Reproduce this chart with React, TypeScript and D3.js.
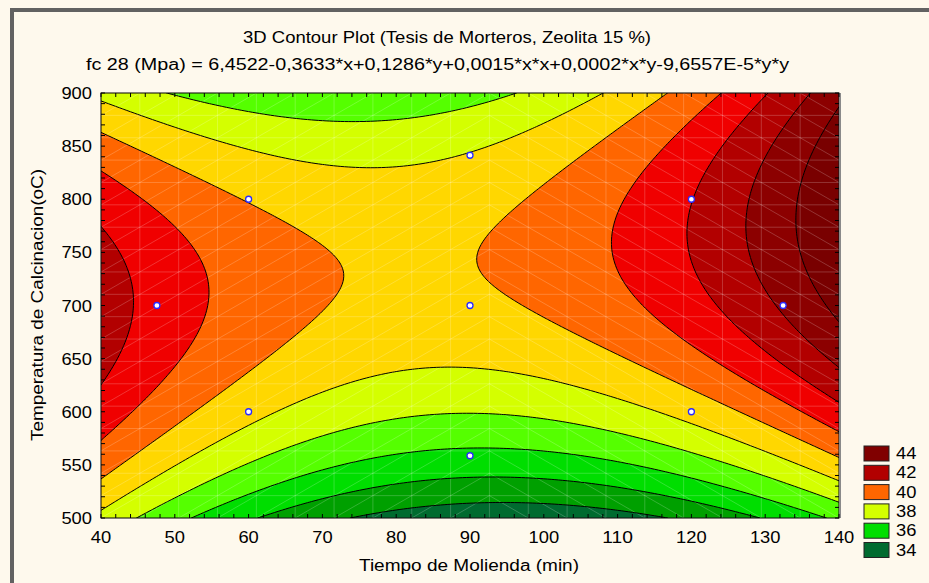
import React, { useMemo } from "react";
import * as d3 from "d3";

const W = 929;
const H = 583;
const M = { left: 101, right: 839, top: 93, bottom: 518 };

const xTicks = [40, 50, 60, 70, 80, 90, 100, 110, 120, 130, 140];
const yTicks = [500, 550, 600, 650, 700, 750, 800, 850, 900];

// contour levels (MPa) and band colours (band below first level ... band above last)
const contourLevels = [35, 36, 37, 38, 39, 40, 41, 42, 43, 44];
const bandColors = [
  "#006b2f", "#00a000", "#00de00", "#55ff00", "#d4ff00", "#ffd700",
  "#ff6600", "#f00000", "#b20000", "#8c0000", "#790000",
];
const legendLabels = [44, 42, 40, 38, 36, 34];
const legendColors = ["#800000", "#b20000", "#ff6600", "#d4ff00", "#00de00", "#006b2f"];

// experimental design points (min, °C)
const designX = [60, 60, 120, 120, 47.57, 132.43, 90, 90, 90];
const designY = [600, 800, 600, 800, 700, 700, 558.58, 841.42, 700];

// positions of each contour line [Tiempo, Temperatura]
const line35: [number, number][] = [[72.8, 500], [81.9, 510.6], [92.7, 516.3], [110.7, 504.5], [116.5, 500]];
const line36: [number, number][] = [[60.6, 500], [65.6, 519.8], [76.4, 532.9], [81.9, 537.6], [92.7, 538.6], [103.1, 532.9], [113.4, 516.9], [124.5, 500]];
const line37: [number, number][] = [[52.1, 500], [65.6, 538.6], [76.4, 554.6], [87.3, 563.1], [92.7, 565.9], [113.4, 542.4], [128.9, 516.9], [140, 502.8]];
const line38: [number, number][] = [[44.9, 500], [65.6, 561.2], [76.4, 589.4], [81.9, 596.9], [87.3, 598.8], [92.7, 598.8], [103.1, 592.2], [113.4, 573.4], [128.9, 543.3], [140, 515.1], [48.7, 900], [76.4, 870.8], [92.7, 891.5], [97.2, 900]];
const line39: [number, number][] = [[40, 891.8], [76.4, 826.9], [90, 841.4], [98.1, 862.4], [108.3, 900], [40, 507.5], [52.1, 551.8], [59.2, 582.8], [65.6, 599.8], [76.4, 632.7], [81.9, 641.2], [87.3, 643.1], [92.7, 641.2], [103.1, 629.9], [120, 600], [140, 533.9]];
const line40: [number, number][] = [[40, 863.6], [59.6, 800.9], [71.0, 749.4], [72.4, 730.6], [71.0, 709.9], [65.6, 667.5], [59.2, 629.9], [40, 537.6], [116.8, 900], [108.6, 855.8], [97.2, 796.5], [93.7, 773.9], [92.7, 758.8], [91.5, 731], [94.7, 711.8], [99.9, 688.2], [105.3, 667.5], [111.7, 646.8], [118.0, 627.1], [128.9, 589.4], [140, 556.5]];
const line41: [number, number][] = [[40, 827.5], [54.3, 730.6], [54.8, 708], [40, 570.6], [123.9, 900], [112.1, 818.1], [109.2, 752.2], [110.1, 724], [114.4, 689.2], [118.9, 667.5], [124.3, 645.9], [128.9, 623.3], [140, 580]];
const line42: [number, number][] = [[40, 775.8], [44.3, 730.6], [44.7, 708], [40, 622.4], [130.2, 900], [120, 800], [119.4, 773.9], [120.2, 724], [124.3, 694.8], [128.9, 667.5], [134.7, 642.1], [140, 620.5]];
const line43: [number, number][] = [[135.7, 900], [127.9, 818.1], [127, 780.5], [127.7, 724], [132, 692.9], [134.7, 670.4], [140, 646.8]];
const line44: [number, number][] = [[139.9, 881.2], [134.3, 818.1], [133.8, 780.5], [135, 724], [140, 692.9]];

const contourReadings: [number, [number, number][]][] = [
  [35, line35], [36, line36], [37, line37], [38, line38], [39, line39],
  [40, line40], [41, line41], [42, line42], [43, line43], [44, line44],
];

const titleText = "3D Contour Plot (Tesis de Morteros, Zeolita 15 %)";
const formulaText = "fc 28 (Mpa) = 6,4522-0,3633*x+0,1286*y+0,0015*x*x+0,0002*x*y-9,6557E-5*y*y";
const xTitle = "Tiempo de Molienda (min)";
const yTitle = "Temperatura de Calcinacion(oC)";

const basis = (x: number, y: number) => {
  const u = (x - 90) / 50;
  const v = (y - 700) / 200;
  return [1, u, v, u * u, u * v, v * v];
};

// least-squares quadratic response surface through the read contour positions
function fitSurface(): number[] {
  const N = 6;
  const A = Array.from({ length: N }, () => new Array(N + 1).fill(0));
  contourReadings.forEach(([level, pts]) =>
    pts.forEach(([x, y]) => {
      const b = basis(x, y);
      for (let i = 0; i < N; i++) {
        for (let j = 0; j < N; j++) A[i][j] += b[i] * b[j];
        A[i][N] += b[i] * level;
      }
    })
  );
  for (let c = 0; c < N; c++) {
    let p = c;
    for (let r = c + 1; r < N; r++) if (Math.abs(A[r][c]) > Math.abs(A[p][c])) p = r;
    [A[c], A[p]] = [A[p], A[c]];
    for (let r = 0; r < N; r++) {
      if (r === c) continue;
      const f = A[r][c] / A[c][c];
      for (let k = c; k <= N; k++) A[r][k] -= f * A[c][k];
    }
  }
  return A.map((row, i) => row[N] / row[i]);
}

const digitW = 10.2;

export default function App() {
  const x = d3.scaleLinear().domain([40, 140]).range([M.left, M.right]);
  const y = d3.scaleLinear().domain([500, 900]).range([M.bottom, M.top]);

  const { bands } = useMemo(() => {
    const coef = fitSurface();
    const nx = 201;
    const ny = 161;
    const dx = 100 / (nx - 1);
    const dy = 400 / (ny - 1);
    const values = new Array(nx * ny);
    for (let j = 0; j < ny; j++) {
      for (let i = 0; i < nx; i++) {
        const b = basis(40 + i * dx, 900 - j * dy);
        values[j * nx + i] = b.reduce((s, v, k) => s + v * coef[k], 0);
      }
    }
    const gen = d3.contours().size([nx, ny]).thresholds(contourLevels);
    const proj = d3.geoTransform({
      point(cx: number, cy: number) {
        (this as any).stream.point(x(40 + (cx - 0.5) * dx), y(900 - (cy - 0.5) * dy));
      },
    });
    const path = d3.geoPath(proj);
    const bands = gen(values).map((g: any) => ({ value: g.value, d: path(g) || "" }));
    return { bands };
  }, []);

  const pw = M.right - M.left;
  const ph = M.bottom - M.top;
  const cells = 19;
  const mesh: string[] = [];
  for (let i = 0; i <= cells; i++) {
    const xx = M.left + (i * pw) / cells;
    const yy = M.top + (i * ph) / cells;
    mesh.push(`M${xx},${M.top}V${M.bottom}`);
    mesh.push(`M${M.left},${yy}H${M.right}`);
  }
  for (let i = 0; i < cells; i++) {
    const xa = M.left + (i * pw) / cells;
    const xb = M.left + ((i + 1) * pw) / cells;
    for (let j = 0; j < cells; j++) {
      const ya = M.top + (j * ph) / cells;
      const yb = M.top + ((j + 1) * ph) / cells;
      if ((xa + xb) / 2 < 490) mesh.push(`M${xa},${yb}L${xb},${ya}`);
      else mesh.push(`M${xa},${ya}L${xb},${yb}`);
    }
  }

  const minorY = d3.range(500, 901, 10);
  const minorX = d3.range(40, 141, 2);
  const font = "Arial, 'Liberation Sans', sans-serif";

  return (
    <svg width={W} height={H} style={{ position: "absolute", left: 0, top: 0, background: "#fef9ed" }} fontFamily={font}>
      <rect x={0} y={0} width={W} height={H} fill="#fef9ed" />
      <rect x={10} y={8} width={4} height={H - 8} fill="#626262" />
      <rect x={10} y={8} width={W - 10} height={4} fill="#626262" />

      <text x={447} y={43} fontSize={17} textAnchor="middle" textLength={408} lengthAdjust="spacingAndGlyphs" fill="#000">{titleText}</text>
      <text x={437.5} y={70} fontSize={16} textAnchor="middle" textLength={703} lengthAdjust="spacingAndGlyphs" fill="#000">{formulaText}</text>

      <defs>
        <clipPath id="plotClip">
          <rect x={M.left} y={M.top} width={pw} height={ph} />
        </clipPath>
      </defs>
      <g clipPath="url(#plotClip)">
        <rect x={M.left} y={M.top} width={pw} height={ph} fill={bandColors[0]} />
        {bands.map((b, i) => (
          <path key={"f" + i} d={b.d} fill={bandColors[i + 1]} stroke="none" />
        ))}
        <path d={mesh.join("")} stroke="#ffffff" strokeOpacity={0.25} strokeWidth={0.8} fill="none" />
        {bands.map((b, i) => (
          <path key={"l" + i} d={b.d} fill="none" stroke="#000" strokeWidth={1} />
        ))}
      </g>

      <rect x={M.left} y={M.top} width={pw} height={ph} fill="none" stroke="#000" strokeWidth={1} />
      <line x1={M.right + 1} x2={M.right + 1} y1={M.top} y2={M.bottom} stroke="#8a8a8a" strokeWidth={2} />
      {minorY.map((v) => (
        <g key={"ty" + v}>
          <line x1={M.left} x2={M.left + 4} y1={y(v)} y2={y(v)} stroke="#000" />
          <line x1={M.right - 4} x2={M.right} y1={y(v)} y2={y(v)} stroke="#000" />
        </g>
      ))}
      {minorX.map((v) => (
        <g key={"tx" + v}>
          <line x1={x(v)} x2={x(v)} y1={M.top} y2={M.top + 4} stroke="#000" />
          <line x1={x(v)} x2={x(v)} y1={M.bottom - 4} y2={M.bottom} stroke="#000" />
        </g>
      ))}

      {designX.map((v, i) => (
        <circle key={"p" + i} cx={x(v)} cy={y(designY[i])} r={3} fill="#fff" stroke="#2a2aff" strokeWidth={1.3} />
      ))}

      {yTicks.map((v) => (
        <text key={"yl" + v} x={92} y={y(v) + 6} fontSize={17} textAnchor="end" textLength={String(v).length * digitW} lengthAdjust="spacingAndGlyphs">{v}</text>
      ))}
      {xTicks.map((v) => (
        <text key={"xl" + v} x={x(v)} y={543} fontSize={17} textAnchor="middle" textLength={String(v).length * digitW} lengthAdjust="spacingAndGlyphs">{v}</text>
      ))}

      <text x={469} y={571} fontSize={16} textAnchor="middle" textLength={220} lengthAdjust="spacingAndGlyphs">{xTitle}</text>
      <text transform={`translate(43,305) rotate(-90)`} fontSize={16} textAnchor="middle" textLength={272} lengthAdjust="spacingAndGlyphs">{yTitle}</text>

      {legendLabels.map((lab, i) => (
        <g key={"lg" + lab}>
          <rect x={864} y={446 + i * 19.3} width={25} height={15} fill={legendColors[i]} stroke="#222" strokeWidth={1} />
          <text x={896} y={446 + i * 19.3 + 13} fontSize={17} textLength={2 * digitW} lengthAdjust="spacingAndGlyphs">{lab}</text>
        </g>
      ))}
    </svg>
  );
}
